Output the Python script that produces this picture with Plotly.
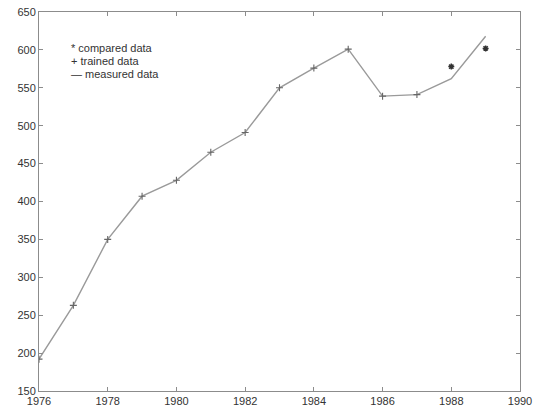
import plotly.graph_objects as go

# Yearly series
years_measured = [1976, 1977, 1978, 1979, 1980, 1981, 1982, 1983, 1984, 1985, 1986, 1987, 1988, 1989]
measured = [192, 263, 350, 407, 428, 465, 491, 550, 576, 601, 539, 541, 562, 618]

years_trained = [1976, 1977, 1978, 1979, 1980, 1981, 1982, 1983, 1984, 1985, 1986, 1987]
trained = [192, 263, 350, 407, 428, 465, 491, 550, 576, 601, 539, 541]

years_compared = [1988, 1989]
compared = [578, 602]

x_ticks = [1976, 1978, 1980, 1982, 1984, 1986, 1988, 1990]
y_ticks = [150, 200, 250, 300, 350, 400, 450, 500, 550, 600, 650]

legend_lines = ["* compared data", "+ trained data", "\u2014 measured data"]

fig = go.Figure()

fig.add_trace(go.Scatter(
    x=years_measured, y=measured, mode="lines",
    line=dict(color="#9a9a9a", width=1.4),
    showlegend=False, hoverinfo="skip",
))
fig.add_trace(go.Scatter(
    x=years_trained, y=trained, mode="markers",
    marker=dict(symbol="cross-thin", size=5, line=dict(color="#666666", width=1.1)),
    showlegend=False,
))
fig.add_trace(go.Scatter(
    x=years_compared, y=compared, mode="markers",
    marker=dict(symbol="asterisk", size=5, line=dict(color="#333333", width=1.5)),
    showlegend=False,
))

# Text key, one line per series
for i, line in enumerate(legend_lines):
    fig.add_annotation(
        xref="paper", yref="paper", x=0.062, y=0.906 - i * 0.035,
        xanchor="left", yanchor="middle", align="left", showarrow=False,
        text=line,
        font=dict(family="Arial, Liberation Sans, sans-serif", size=11, color="#333333"),
    )

axis_common = dict(
    showgrid=False, zeroline=False, showline=True, linecolor="#8c8c8c", linewidth=1,
    mirror="ticks", ticks="inside", ticklen=4, tickcolor="#8c8c8c", automargin=False,
    tickfont=dict(family="Arial, Liberation Sans, sans-serif", size=11, color="#333333"),
)

fig.update_xaxes(range=[1976, 1990], tickvals=x_ticks, ticktext=[str(v) for v in x_ticks], **axis_common)
fig.update_yaxes(range=[150, 650], tickvals=y_ticks, ticktext=[str(v) for v in y_ticks], **axis_common)

fig.update_layout(
    width=536, height=407,
    margin=dict(l=39, r=16, t=12, b=16),
    paper_bgcolor="white", plot_bgcolor="white",
)

fig.write_html("out.html")
